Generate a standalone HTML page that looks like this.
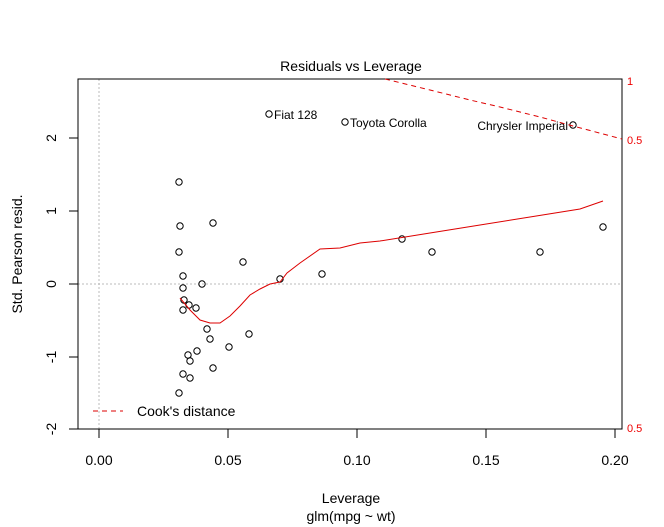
<!DOCTYPE html>
<html><head><meta charset="utf-8"><style>body{margin:0;background:#fff}svg{display:block}</style></head><body>
<svg width="664" height="527" xmlns="http://www.w3.org/2000/svg" font-family="Liberation Sans, Arial, sans-serif">
<rect width="664" height="527" fill="#fff"/>
<line x1="99" y1="79" x2="99" y2="429" stroke="#bbb" stroke-dasharray="2,2"/>
<line x1="78" y1="284" x2="622" y2="284" stroke="#bbb" stroke-dasharray="2,2"/>
<rect x="78" y="79" width="544" height="350" fill="none" stroke="#000"/>
<text x="351" y="71" font-size="14" text-anchor="middle">Residuals vs Leverage</text>
<g stroke="#000">
<line x1="99" y1="429" x2="99" y2="438"/><line x1="228" y1="429" x2="228" y2="438"/><line x1="357" y1="429" x2="357" y2="438"/><line x1="486" y1="429" x2="486" y2="438"/><line x1="615" y1="429" x2="615" y2="438"/>
<line x1="78" y1="138" x2="69" y2="138"/><line x1="78" y1="211" x2="69" y2="211"/><line x1="78" y1="284" x2="69" y2="284"/><line x1="78" y1="357" x2="69" y2="357"/><line x1="78" y1="429" x2="69" y2="429"/>
</g>
<g font-size="14" text-anchor="middle">
<text x="99" y="465">0.00</text><text x="228" y="465">0.05</text><text x="357" y="465">0.10</text><text x="486" y="465">0.15</text><text x="615" y="465">0.20</text>
<text x="351" y="503">Leverage</text><text x="351" y="521">glm(mpg ~ wt)</text>
<g transform="rotate(-90)"><text x="-138" y="56">2</text><text x="-211" y="56">1</text><text x="-284" y="56">0</text><text x="-357" y="56">-1</text><text x="-429" y="56">-2</text><text x="-254" y="22">Std. Pearson resid.</text></g>
</g>
<g fill="none" stroke="#000">
<circle cx="179" cy="182" r="3.2"/><circle cx="180" cy="226" r="3.2"/><circle cx="213" cy="223" r="3.2"/>
<circle cx="179" cy="252" r="3.2"/><circle cx="243" cy="262" r="3.2"/><circle cx="183" cy="276" r="3.2"/><circle cx="202" cy="284" r="3.2"/><circle cx="183" cy="288" r="3.2"/><circle cx="280" cy="279" r="3.2"/><circle cx="184" cy="300" r="3.2"/><circle cx="189" cy="305" r="3.2"/><circle cx="196" cy="308" r="3.2"/><circle cx="183" cy="310" r="3.2"/><circle cx="207" cy="329" r="3.2"/><circle cx="210" cy="339" r="3.2"/><circle cx="249" cy="334" r="3.2"/><circle cx="229" cy="347" r="3.2"/><circle cx="188" cy="355" r="3.2"/><circle cx="197" cy="351" r="3.2"/><circle cx="190" cy="361" r="3.2"/><circle cx="213" cy="368" r="3.2"/><circle cx="183" cy="374" r="3.2"/><circle cx="190" cy="378" r="3.2"/><circle cx="179" cy="393" r="3.2"/>
<circle cx="322" cy="274" r="3.2"/><circle cx="402" cy="239" r="3.2"/><circle cx="432" cy="252" r="3.2"/><circle cx="540" cy="252" r="3.2"/><circle cx="603" cy="227" r="3.2"/>
<circle cx="269" cy="114" r="3.2"/><circle cx="345" cy="122" r="3.2"/><circle cx="573" cy="125" r="3.2"/>
</g>
<g font-size="12">
<text x="274" y="119">Fiat 128</text><text x="350" y="127">Toyota Corolla</text><text x="568" y="130" text-anchor="end">Chrysler Imperial</text>
</g>
<polyline fill="none" stroke="#d00" stroke-width="1" points="180,298 190,310 200,320 210,323 220,323 230,316 240,306 250,295 260,289 270,284 280,282 287,273 300,263 320,249 340,248 360,243 380,241 430,233 480,225 530,217 580,209 603,201"/>
<polyline fill="none" stroke="#d00" stroke-dasharray="5,4" points="385,79 430,90 470,100 500,107 540,117 573,126 622,139"/>
<g fill="#e00" font-size="11"><text x="627" y="85">1</text><text x="627" y="144">0.5</text><text x="627" y="432">0.5</text></g>
<line x1="93" y1="411" x2="123" y2="411" stroke="#d00" stroke-dasharray="5,4"/>
<text x="137" y="416" font-size="14">Cook's distance</text>
</svg>
</body></html>
